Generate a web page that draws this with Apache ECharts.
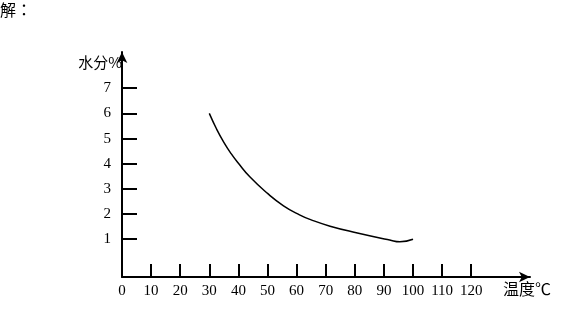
<!DOCTYPE html>
<html>
<head>
<meta charset="utf-8">
<script src="https://cdn.jsdelivr.net/npm/echarts@6/dist/echarts.min.js"></script>
<style>
html,body{margin:0;padding:0;background:#fff;}
#chart{width:568px;height:311px;}
</style>
</head>
<body>
<div id="chart"></div>
<script>
// Data
const temperature = [30, 32.5, 35, 37.5, 40, 44, 50, 55.5, 61, 65, 71.5, 80.5, 92, 95.5, 100];
const moisture    = [6.0, 5.38, 4.85, 4.40, 4.02, 3.47, 2.82, 2.33, 1.97, 1.77, 1.52, 1.26, 0.97, 0.9, 1.0];
const xTickValues = [0, 10, 20, 30, 40, 50, 60, 70, 80, 90, 100, 110, 120];
const yTickValues = [1, 2, 3, 4, 5, 6, 7];
const titleText = '解：';
const xName = '温度℃';
const yName = '水分%';

const serif = 'SimSun, "Liberation Serif", "Noto Sans CJK SC", serif';
const cjk = '"Noto Sans CJK SC", SimSun, sans-serif';
const cjkTC = '"Noto Sans CJK TC", "Noto Sans CJK SC", sans-serif';
const chart = echarts.init(document.getElementById('chart'), null, {renderer: 'canvas'});
chart.setOption({
  animation: false,
  backgroundColor: '#fff',
  title: {
    text: titleText, left: 0, top: 2, padding: 0,
    textStyle: {fontSize: 16, fontWeight: 'normal', color: '#000', fontFamily: cjkTC}
  },
  grid: {left: 122, top: 52, width: 408, height: 225, containLabel: false},
  xAxis: {
    type: 'value', min: 0, max: 140.2,
    name: xName, nameLocation: 'end', nameGap: -27,
    nameTextStyle: {fontSize: 16, color: '#000', fontFamily: cjk, align: 'left', verticalAlign: 'top', padding: [4, 0, 0, 0]},
    axisLine: {onZero: false, lineStyle: {color: '#000', width: 2}, symbol: ['none', 'arrow'], symbolSize: [8, 11]},
    axisTick: {show: true, inside: true, length: 13, lineStyle: {color: '#000', width: 2}, customValues: xTickValues.slice(1)},
    axisLabel: {margin: 7, fontSize: 15, color: '#000', fontFamily: serif, customValues: xTickValues, formatter: v => String(v)},
    splitLine: {show: false}
  },
  yAxis: {
    type: 'value', min: -0.5, max: 8.44,
    name: yName, nameLocation: 'end', nameGap: -10,
    nameTextStyle: {fontSize: 15, color: '#000', fontFamily: cjk, align: 'right', verticalAlign: 'middle'},
    axisLine: {show: true, lineStyle: {color: '#000', width: 2}, symbol: ['none', 'arrow'], symbolSize: [8, 11]},
    axisTick: {show: true, inside: true, length: 15, lineStyle: {color: '#000', width: 2}, customValues: yTickValues},
    axisLabel: {margin: 11, fontSize: 15, color: '#000', fontFamily: serif, customValues: yTickValues, formatter: v => String(v)},
    splitLine: {show: false}
  },
  series: [{
    type: 'line',
    data: temperature.map((t, i) => [t, moisture[i]]),
    smooth: 0.5,
    showSymbol: false,
    lineStyle: {color: '#000', width: 1.5}
  }]
});
</script>
</body>
</html>
